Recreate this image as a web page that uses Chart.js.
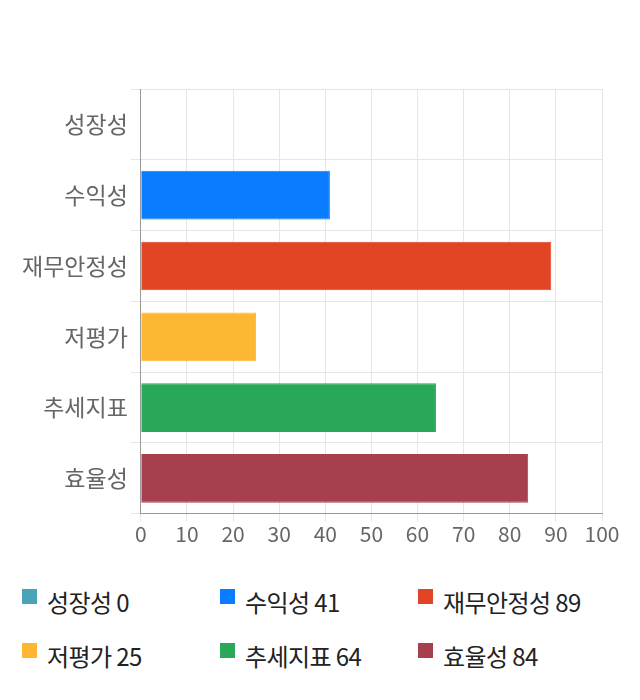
<!DOCTYPE html>
<html>
<head>
<meta charset="utf-8">
<script src="https://cdn.jsdelivr.net/npm/chart.js@4"></script>
<style>
  body { margin: 0; background: #fff; font-family: "Noto Sans CJK KR", sans-serif; }
  .wrap { width: 640px; height: 555px; position: relative; }
  .legend { position: absolute; top: 586px; left: 22px; width: 610px; }
  .legend div { display: inline-block; width: 198px; height: 54px; font-size: 24px; line-height: 32px; color: #222; letter-spacing: -0.6px; vertical-align: top; white-space: nowrap; }
  .legend span { display: inline-block; width: 15px; height: 15px; margin-right: 10px; vertical-align: 8px; }
</style>
</head>
<body>
<div class="wrap"><canvas id="myChart"></canvas></div>
<div class="legend" id="legend"></div>
<script>
// data
const categories = ['성장성', '수익성', '재무안정성', '저평가', '추세지표', '효율성'];
const scores = [0, 41, 89, 25, 64, 84];
const colors = ['#4aa3b8', '#0a7cff', '#e24525', '#fdb732', '#29a85a', '#a6404f'];
const xTicks = [0, 10, 20, 30, 40, 50, 60, 70, 80, 90, 100];

// legend
const legend = document.getElementById('legend');
categories.forEach((c, i) => {
  const d = document.createElement('div');
  d.innerHTML = '<span style="background:' + colors[i] + '"></span>' + c + ' ' + scores[i];
  legend.appendChild(d);
});

const ctx = document.getElementById('myChart');
Chart.defaults.font.family = '"Noto Sans CJK KR", sans-serif';

new Chart(ctx, {
  type: 'bar',
  data: {
    labels: categories,
    datasets: [{
      data: scores,
      backgroundColor: colors,
      borderColor: colors,
      borderWidth: 1,
      barPercentage: 0.86,
      categoryPercentage: 0.8
    }]
  },
  options: {
    indexAxis: 'y',
    responsive: true,
    maintainAspectRatio: false,
    animation: false,
    layout: { padding: { top: 89, right: 38, left: 19, bottom: 8 } },
    plugins: { legend: { display: false }, tooltip: { enabled: false } },
    scales: {
      x: {
        min: 0, max: 100,
        afterBuildTicks: axis => { axis.ticks = xTicks.map(v => ({ value: v })); },
        grid: { color: '#e6e6e6', tickLength: 8 },
        border: { color: '#999' },
        ticks: { color: '#666', font: { size: 21 }, padding: 0 }
      },
      y: {
        grid: { color: '#e6e6e6', offset: true, tickLength: 10 },
        border: { color: '#999' },
        ticks: { color: '#666', font: { size: 23 }, padding: 3 }
      }
    }
  }
});
</script>
</body>
</html>
